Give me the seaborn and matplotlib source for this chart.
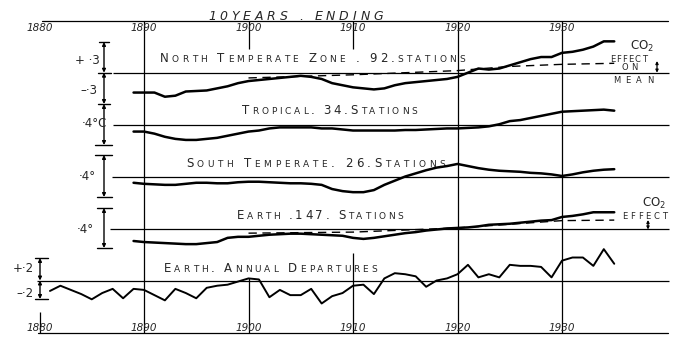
import matplotlib
matplotlib.use('Agg')
import matplotlib.pyplot as plt
import seaborn as sns
from matplotlib.font_manager import FontProperties

sns.set_style('white')
plt.rcParams['font.family'] = ['DejaVu Sans']

# ---------------- data (deg C departures) ----------------
smooth_years = list(range(1889, 1936))          # 10-year running means, year ending
north_temperate = [-0.19, -0.19, -0.19, -0.23, -0.22, -0.18, -0.175, -0.17, -0.15, -0.13,
                   -0.10, -0.08, -0.07, -0.06, -0.05, -0.04, -0.03, -0.04, -0.06, -0.10,
                   -0.12, -0.14, -0.15, -0.16, -0.15, -0.12, -0.10, -0.09, -0.08, -0.07,
                   -0.06, -0.04, 0.00, 0.04, 0.03, 0.04, 0.07, 0.10, 0.13, 0.15,
                   0.15, 0.19, 0.20, 0.22, 0.25, 0.30, 0.30]
tropical = [-0.06, -0.06, -0.08, -0.11, -0.13, -0.14, -0.14, -0.13, -0.12, -0.10,
            -0.08, -0.06, -0.05, -0.03, -0.02, -0.02, -0.02, -0.02, -0.03, -0.03,
            -0.04, -0.05, -0.05, -0.05, -0.05, -0.05, -0.045, -0.045, -0.04, -0.035,
            -0.03, -0.03, -0.025, -0.02, -0.01, 0.01, 0.04, 0.05, 0.07, 0.09,
            0.11, 0.13, 0.135, 0.14, 0.145, 0.15, 0.14]
south_temperate = [-0.06, -0.07, -0.075, -0.08, -0.08, -0.07, -0.06, -0.06, -0.065, -0.065,
                   -0.055, -0.05, -0.05, -0.055, -0.06, -0.065, -0.065, -0.07, -0.08, -0.12,
                   -0.14, -0.15, -0.15, -0.13, -0.08, -0.04, 0.00, 0.03, 0.06, 0.085,
                   0.10, 0.12, 0.10, 0.08, 0.065, 0.055, 0.05, 0.045, 0.035, 0.03,
                   0.02, 0.005, 0.02, 0.04, 0.055, 0.065, 0.07]
earth_147 = [-0.11, -0.12, -0.125, -0.13, -0.135, -0.14, -0.14, -0.13, -0.12, -0.08,
             -0.07, -0.07, -0.06, -0.05, -0.045, -0.04, -0.04, -0.045, -0.05, -0.055,
             -0.06, -0.08, -0.09, -0.08, -0.065, -0.05, -0.035, -0.025, -0.01, 0.00,
             0.01, 0.015, 0.02, 0.03, 0.045, 0.05, 0.055, 0.065, 0.075, 0.085,
             0.09, 0.12, 0.13, 0.145, 0.165, 0.165, 0.165]
co2_years = [1900, 1905, 1910, 1915, 1920, 1925, 1930, 1935]
co2_north = [-0.05, -0.035, -0.02, 0.00, 0.02, 0.06, 0.08, 0.09]
co2_earth = [-0.035, -0.03, -0.025, -0.005, 0.015, 0.05, 0.085, 0.09]
annual_years = list(range(1881, 1936))
earth_annual = [-0.10, -0.05, -0.09, -0.13, -0.18, -0.12, -0.08, -0.17, -0.08, -0.09,
                -0.14, -0.19, -0.08, -0.12, -0.17, -0.07, -0.05, -0.04, -0.01, 0.02,
                0.01, -0.16, -0.09, -0.14, -0.14, -0.08, -0.22, -0.15, -0.12, -0.05,
                -0.04, -0.13, 0.02, 0.07, 0.06, 0.04, -0.06, 0.00, 0.02, 0.06,
                0.15, 0.03, 0.06, 0.03, 0.15, 0.14, 0.14, 0.13, 0.03, 0.19,
                0.22, 0.22, 0.14, 0.30, 0.16]

decade_years = [1880, 1890, 1900, 1910, 1920, 1930]
decade_labels = ['1880', '1890', '1900', '1910', '1920', '1930']
title_text = '10YEARS . ENDING'
panel_titles = ['North Temperate Zone . 92.stations', 'Tropical. 34.Stations',
                'South Temperate. 26.Stations', 'Earth .147. Stations',
                'Earth. Annual Departures']

# ---------------- layout (pixels) ----------------
W, H = 680, 345
PX_YEAR = 10.45
X_1880 = 39.5
PX_DEG = 104.5
X0 = 1880 - X_1880 / PX_YEAR
X1 = X0 + W / PX_YEAR


def yr(px):
    return X0 + px / PX_YEAR


fig = plt.figure(figsize=(6.8, 3.45), dpi=100)
fig.patch.set_facecolor('white')
renderer = fig.canvas.get_renderer()


def overlay():
    ax = fig.add_axes([0, 0, 1, 1])
    ax.set_facecolor('none')
    ax.axis('off')
    return ax


grid = overlay()
pix = overlay()

LW_THIN = 0.9
K = 'black'

# horizontal axis lines top and bottom
pix.plot([42, 668], [21, 21], color=K, lw=LW_THIN)
pix.plot([38, 668], [333, 333], color=K, lw=LW_THIN)

# vertical decade lines
grid.vlines([1890, 1920, 1930], 21, 333, color=K, lw=LW_THIN)
grid.vlines([1900, 1910], 21, 49, color=K, lw=LW_THIN)
grid.vlines(1900, 278, 333, color=K, lw=LW_THIN)
grid.vlines(1910, 253, 333, color=K, lw=LW_THIN)
grid.vlines(1880, 312, 333, color=K, lw=LW_THIN)

# decade labels, top and bottom
for yv, lab in zip(decade_years, decade_labels):
    grid.text(yv, 31, lab, ha='center', va='baseline', fontsize=7.5, style='italic')
    grid.text(yv, 331, lab, ha='center', va='baseline', fontsize=7.5, style='italic')


def spaced_text(x0, x1, y, text, big, small, style='normal'):
    chars = []
    for ch in text:
        if ch.islower():
            chars.append((ch.upper(), small))
        else:
            chars.append((ch, big))
    widths = []
    for ch, sz in chars:
        if ch == ' ':
            widths.append(0.3 * sz * 100 / 72)
        else:
            fp = FontProperties(family='DejaVu Sans', size=sz, style=style)
            w, h, d = renderer.get_text_width_height_descent(ch, fp, ismath=False)
            widths.append(w)
    gap = (x1 - x0 - sum(widths)) / (len(chars) - 1)
    x = x0
    for (ch, sz), w in zip(chars, widths):
        if ch != ' ':
            pix.text(x, y, ch, fontsize=sz, ha='left', va='baseline', style=style)
        x += w + gap


spaced_text(208, 383, 20, title_text, 9, 9, style='italic')

baselines = [72.7, 125.3, 176.5, 229.5, 280.5]
label_pos = [(160, 465, 62), (242, 417, 113.5), (186, 445, 167), (237, 403, 219), (164, 377, 272)]
base_start = [113, 113, 112, 110, 37]
for (a, b, y), t in zip(label_pos, panel_titles):
    spaced_text(a, b, y, t, 8.5, 6.5)

panels = []
for b in baselines:
    ax = overlay()
    panels.append(ax)

series = [north_temperate, tropical, south_temperate, earth_147]
for ax, vals in zip(panels[:4], series):
    sns.lineplot(x=smooth_years, y=vals, ax=ax, color=K, linewidth=1.8)
sns.lineplot(x=annual_years, y=earth_annual, ax=panels[4], color=K, linewidth=1.4)
sns.lineplot(x=co2_years, y=co2_north, ax=panels[0], color=K, linewidth=1.0,
             linestyle=(0, (6, 4)))
sns.lineplot(x=co2_years, y=co2_earth, ax=panels[3], color=K, linewidth=1.0,
             linestyle=(0, (6, 4)))

for ax, b, s in zip(panels, baselines, base_start):
    ax.hlines(0, yr(s), yr(669), color=K, lw=LW_THIN)
    ax.set_xlim(X0, X1)
    ax.set_ylim(-(H - b) / PX_DEG, b / PX_DEG)
    ax.axis('off')


# scale bars
def vbar(x, y0, y1):
    pix.annotate('', xy=(x, y1), xytext=(x, y0),
                 arrowprops=dict(arrowstyle='<|-|>', color=K, lw=1.0, mutation_scale=5,
                                 shrinkA=0, shrinkB=0))


def htick(x0, x1, y):
    pix.plot([x0, x1], [y, y], color=K, lw=1.0)


vbar(104, 42, 72.7); vbar(104, 72.7, 104)
htick(99, 109, 42); htick(98, 111, 72.7); htick(98, 110, 104)
vbar(104, 104, 145); htick(95, 112, 145)
vbar(104, 155, 197); htick(95, 112, 155); htick(97, 112, 197)
vbar(104, 208, 248); htick(97, 112, 208); htick(97, 112, 248)
vbar(40, 258, 280.5); vbar(40, 280.5, 299)
htick(35, 48, 258); htick(35, 48, 299)

scale_fs = 8.5
pix.text(100, 64, '+ ·3', ha='right', va='baseline', fontsize=scale_fs)
pix.text(97, 94, '–·3', ha='right', va='baseline', fontsize=scale_fs)
pix.text(107, 127, '·4°C', ha='right', va='baseline', fontsize=scale_fs)
pix.text(96, 180, '·4°', ha='right', va='baseline', fontsize=scale_fs)
pix.text(94, 233, '·4°', ha='right', va='baseline', fontsize=scale_fs)
pix.text(34, 272, '+·2', ha='right', va='baseline', fontsize=scale_fs)
pix.text(34, 297, '–·2', ha='right', va='baseline', fontsize=scale_fs)

# CO2 notes
pix.text(630, 50, 'CO$_2$', ha='left', va='baseline', fontsize=8.5)
spaced_text(610, 647, 62, 'effect', 6, 6)
spaced_text(622, 637, 69.5, 'on', 6, 6)
spaced_text(613, 653, 83, 'mean', 6, 6)
pix.annotate('', xy=(657, 72.7), xytext=(657, 61),
             arrowprops=dict(arrowstyle='<|-|>', color=K, lw=0.9, mutation_scale=4,
                             shrinkA=0, shrinkB=0))
pix.text(642, 207, 'CO$_2$', ha='left', va='baseline', fontsize=8.5)
spaced_text(622, 667, 219, 'effect', 6, 6)
pix.annotate('', xy=(648, 229.5), xytext=(648, 220),
             arrowprops=dict(arrowstyle='<|-|>', color=K, lw=0.9, mutation_scale=4,
                             shrinkA=0, shrinkB=0))

grid.set_xlim(X0, X1); grid.set_ylim(H, 0)
pix.set_xlim(0, W); pix.set_ylim(H, 0)

fig.savefig('out.png', dpi=100, facecolor='white')
